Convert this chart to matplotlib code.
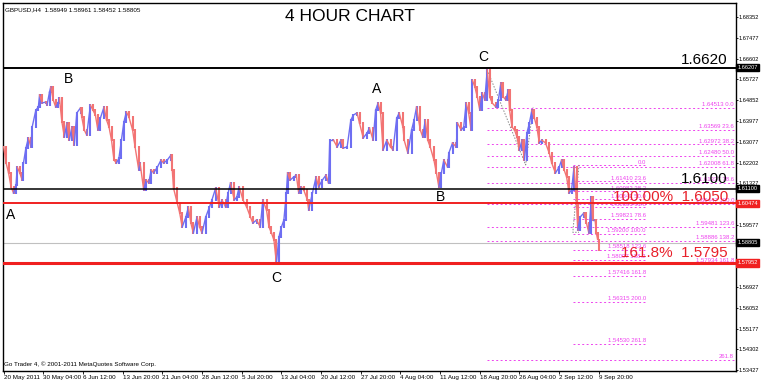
import matplotlib
matplotlib.use("Agg")
import matplotlib.pyplot as plt
import matplotlib.transforms as mtransforms

plt.rcParams['font.family'] = ['Liberation Sans', 'DejaVu Sans']

# price path (H4 bar index, price)
bars = [0, 2, 4, 6, 8, 10, 11, 13, 15, 16, 18, 20, 22, 23, 26, 28, 29, 31, 34, 35,
        37, 38, 40, 42, 44, 45, 47, 49, 51, 53, 55, 57, 59, 62, 63, 65, 67, 70, 72, 74,
        76, 78, 81, 83, 85, 87, 89, 91, 93, 95, 97, 99, 101, 104, 106, 109, 110, 113, 115, 117,
        119, 121, 124, 127, 129, 132, 135, 136, 137, 140, 142, 144, 147, 149, 151, 153, 156, 158, 160, 163,
        166, 168, 171, 174, 176, 179, 181, 183, 186, 188, 190, 193, 196, 199, 201, 204, 207, 209, 212, 214,
        216, 218, 220, 222, 224, 226, 228, 229, 231, 234, 236, 238, 240, 242, 245, 246, 249, 252, 254, 257,
        260, 262, 263, 266, 269, 272, 274, 277, 280, 282, 285, 287, 290, 293, 295, 298, 300, 302, 304, 306,
        309, 312, 314, 317, 319, 322, 323, 326, 329, 331, 333, 336, 338, 340, 342, 344, 347, 349, 351, 353,
        355, 358, 359, 362, 365, 366, 369, 371, 373, 375, 377, 378, 380, 382, 384, 386, 388, 390, 392, 394,
        397, 399, 401, 403, 405, 407, 408, 410, 412, 414, 416, 418, 420, 422, 424, 426, 428, 430, 432, 434,
        437, 440, 442, 445, 448, 450, 452, 454, 456, 458, 460, 462, 463, 465, 468, 470, 472, 474, 475, 477,
        478, 479]
prices = [1.6287, 1.6218, 1.6176, 1.6117, 1.6091, 1.6125, 1.6201, 1.6176, 1.6146, 1.6218,
          1.6282, 1.6324, 1.6286, 1.6370, 1.6442, 1.6455, 1.6506, 1.6472, 1.6476, 1.6463,
          1.6518, 1.6540, 1.6485, 1.6455, 1.6472, 1.6493, 1.6392, 1.6328, 1.6387, 1.6315,
          1.6370, 1.6294, 1.6430, 1.6451, 1.6413, 1.6358, 1.6337, 1.6463, 1.6442, 1.6421,
          1.6358, 1.6408, 1.6455, 1.6400, 1.6370, 1.6315, 1.6231, 1.6218, 1.6239, 1.6315,
          1.6392, 1.6434, 1.6413, 1.6358, 1.6286, 1.6189, 1.6218, 1.6104, 1.6146, 1.6134,
          1.6189, 1.6176, 1.6201, 1.6231, 1.6218, 1.6231, 1.6252, 1.6189, 1.6112, 1.6049,
          1.6007, 1.5947, 1.5990, 1.6032, 1.5964, 1.5922, 1.5990, 1.5947, 1.5922, 1.5990,
          1.6032, 1.6062, 1.6112, 1.6032, 1.6062, 1.6032, 1.6091, 1.6134, 1.6062, 1.6074,
          1.6117, 1.6062, 1.6032, 1.5990, 1.5964, 1.5977, 1.5947, 1.6062, 1.6019, 1.5947,
          1.5922, 1.5892, 1.5795, 1.5905, 1.5947, 1.5977, 1.6091, 1.6176, 1.6146, 1.6159,
          1.6167, 1.6091, 1.6117, 1.6104, 1.6062, 1.6019, 1.6091, 1.6159, 1.6117, 1.6146,
          1.6167, 1.6134, 1.6315, 1.6315, 1.6286, 1.6315, 1.6282, 1.6286, 1.6400, 1.6421,
          1.6430, 1.6387, 1.6324, 1.6345, 1.6366, 1.6315, 1.6442, 1.6472, 1.6430, 1.6273,
          1.6315, 1.6286, 1.6273, 1.6408, 1.6430, 1.6370, 1.6315, 1.6260, 1.6358, 1.6400,
          1.6455, 1.6358, 1.6328, 1.6400, 1.6315, 1.6286, 1.6231, 1.6176, 1.6117, 1.6176,
          1.6231, 1.6201, 1.6260, 1.6303, 1.6286, 1.6387, 1.6358, 1.6370, 1.6472, 1.6430,
          1.6358, 1.6569, 1.6540, 1.6497, 1.6442, 1.6514, 1.6485, 1.6612, 1.6497, 1.6472,
          1.6455, 1.6485, 1.6557, 1.6497, 1.6485, 1.6527, 1.6442, 1.6370, 1.6358, 1.6328,
          1.6273, 1.6315, 1.6231, 1.6345, 1.6387, 1.6442, 1.6408, 1.6370, 1.6303, 1.6315,
          1.6303, 1.6260, 1.6218, 1.6176, 1.6201, 1.6231, 1.6189, 1.6159, 1.6091, 1.6104,
          1.6201, 1.6049, 1.5935, 1.5990, 1.6007, 1.5964, 1.5922, 1.6074, 1.5977, 1.5977,
          1.5922, 1.5895]
last_bar = 480
last_ohlc = [1.58949, 1.58961, 1.58452, 1.58805]

# horizontal levels
level_1662 = 1.6620
level_1611 = 1.6110
level_16047 = 1.60474
level_bid = 1.58805
level_15795 = 1.57952

# fibo set 1 (long one from the C top)
fib1_start = 390
fib1_prices = [1.64513, 1.63569, 1.62972, 1.62480, 1.62008, 1.61337, 1.60447,
               1.59481, 1.58886, 1.57934, 1.53868]
fib1_labels = ["1.64513 0.0", "1.63569 23.6", "1.62972 38.2", "1.62480 50.0",
               "1.62008 61.8", "1.61337 78.6", "1.60447 100.0", "1.59481 123.6",
               "1.58886 138.2", "1.57934 161.8", "261.8"]
# fibo set 2 (short one)
fib2_start, fib2_end = 459, 518
fib2_prices = [1.62084, 1.61410, 1.60982, 1.60642, 1.60301, 1.59816, 1.59199,
               1.58518, 1.58097, 1.57416, 1.56315, 1.54530]
fib2_labels = ["0.0", "1.61410 23.6", "1.60982 38.2", "1.60642 50.0", "1.60301 61.8",
               "1.59821 78.6", "1.59200 100.0", "1.58518 123.6", "1.58097 138.2",
               "1.57416 161.8", "1.56315 200.0", "1.54530 261.8"]

# dotted trend lines of the fibo tools
trend1_bars = [390, 421, 427]
trend1_prices = [1.6612, 1.6210, 1.6455]
trend2_bars = [464, 459, 464]
trend2_prices = [1.6210, 1.5925, 1.5925]

# wave letters
wave_labels = ["A", "B", "C", "A", "B", "C"]
wave_bars = [6, 52, 220, 301, 352, 387]
wave_prices = [1.6000, 1.6575, 1.5732, 1.6530, 1.6075, 1.6667]

time_ticks = list(range(0, 481, 32))
time_labels = ["20 May 2011", "30 May 04:00", "6 Jun 12:00", "13 Jun 20:00", "21 Jun 04:00",
               "28 Jun 12:00", "5 Jul 20:00", "13 Jul 04:00", "20 Jul 12:00", "27 Jul 20:00",
               "4 Aug 04:00", "11 Aug 12:00", "18 Aug 20:00", "26 Aug 04:00", "2 Sep 12:00",
               "9 Sep 20:00"]
price_ticks = [1.68352, 1.67477, 1.66602, 1.65727, 1.64852, 1.63977, 1.63077, 1.62202,
               1.61327, 1.60452, 1.59577, 1.58702, 1.57827, 1.56927, 1.56052, 1.55177,
               1.54302, 1.53427]

UP = '#6e6ef2'
DOWN = '#f27474'
FIB = '#ee44ee'

fig = plt.figure(figsize=(7.61, 3.83), dpi=100)
ax = fig.add_axes([3 / 761, 12 / 383, 733 / 761, 368 / 383])
ax.set_xlim(-0.5, 590.6)
ax.set_ylim(1.53383, 1.68950)

# price bars
for i in range(1, len(bars)):
    p0, p1 = prices[i - 1], prices[i]
    c = UP if p1 >= p0 else DOWN
    ax.vlines(bars[i], min(p0, p1) - 0.0004, max(p0, p1) + 0.0004, colors=c, lw=1.5, zorder=3)
    ax.plot([bars[i - 1], bars[i]], [p0, p1], color=c, lw=1.0, zorder=3)
o, h, l, cl = last_ohlc
ax.vlines(last_bar, l, h, colors=DOWN, lw=1.5, zorder=3)

# levels
ax.axhline(level_1662, color='black', lw=1.4, zorder=4)
ax.axhline(level_1611, color='black', lw=1.1, zorder=4)
ax.axhline(level_16047, color='#f02020', lw=1.4, zorder=4)
ax.axhline(level_bid, color='#c0c0c0', lw=0.8, zorder=2)
ax.axhline(level_15795, color='#f02020', lw=2.2, zorder=4)

# fibo lines
xr = ax.get_xlim()[1]
for p, lab in zip(fib1_prices, fib1_labels):
    ax.plot([fib1_start, xr], [p, p], color=FIB, lw=0.7, ls=(0, (2, 2.5)), zorder=2)
    ax.text(589, p + 0.0003, lab, color=FIB, fontsize=4.3, ha='right', va='bottom', zorder=2)
for p, lab in zip(fib2_prices, fib2_labels):
    ax.plot([fib2_start, fib2_end], [p, p], color=FIB, lw=0.7, ls=(0, (2, 2.5)), zorder=2)
    ax.text(fib2_end, p + 0.0003, lab, color=FIB, fontsize=4.3, ha='right', va='bottom', zorder=2)
ax.plot(trend1_bars, trend1_prices, color='#888888', lw=0.7, ls=(0, (1.5, 1.5)), zorder=2)
ax.plot(trend2_bars, trend2_prices, color='#888888', lw=0.7, ls=(0, (1.5, 1.5)), zorder=2)

# big level texts
ax.text(584, level_1662 + 0.0004, "1.6620", fontsize=11, ha='right', va='bottom', zorder=6)
ax.text(584, level_1611 + 0.0012, "1.6100", fontsize=11, ha='right', va='bottom', zorder=6)
ax.text(584, level_16047 - 0.0003, "100.00%  1.6050", fontsize=11, color='#e8202a',
        ha='right', va='bottom', zorder=6)
ax.text(584, level_15795 + 0.0012, "161.8%  1.5795", fontsize=11, color='#e8202a',
        ha='right', va='bottom', zorder=6)

for t, b, p in zip(wave_labels, wave_bars, wave_prices):
    ax.text(b, p, t, fontsize=10, ha='center', va='center', zorder=6)

ax.text(0.473, 0.962, "4 HOUR CHART", transform=ax.transAxes, fontsize=12.5,
        ha='center', va='center')
ax.text(0.003, 0.988, "GBPUSD,H4  1.58949 1.58961 1.58452 1.58805", transform=ax.transAxes,
        fontsize=4.5, ha='left', va='top')
ax.text(0.001, 0.01, "Go Trader 4, \u00a9 2001-2011 MetaQuotes Software Corp.",
        transform=ax.transAxes, fontsize=4.5, ha='left', va='bottom')

# axes
ax.set_xticks(time_ticks)
ax.set_xticklabels(time_labels, ha='left')
ax.yaxis.tick_right()
ax.set_yticks(price_ticks)
ax.set_yticklabels(["%.5f" % v for v in price_ticks])
ax.tick_params(axis='x', labelsize=4.5, length=2, width=0.6, pad=1)
ax.tick_params(axis='y', labelsize=4.1, length=1.5, width=0.6, pad=0.6)
for s in ax.spines.values():
    s.set_linewidth(1.0)

# price boxes on the right scale
trans = mtransforms.blended_transform_factory(ax.transAxes, ax.transData)
for v, bg in [(1.66207, 'black'), (level_1611, 'black'), (level_16047, '#f02020'),
              (level_bid, 'black'), (level_15795, '#f02020')]:
    ax.text(1.002, v, "%.5f" % v, transform=trans, fontsize=4.1, color='white',
            ha='left', va='center', zorder=7, clip_on=False,
            bbox=dict(boxstyle='square,pad=0.2', fc=bg, ec=bg))

fig.savefig('out.png', dpi=100)
